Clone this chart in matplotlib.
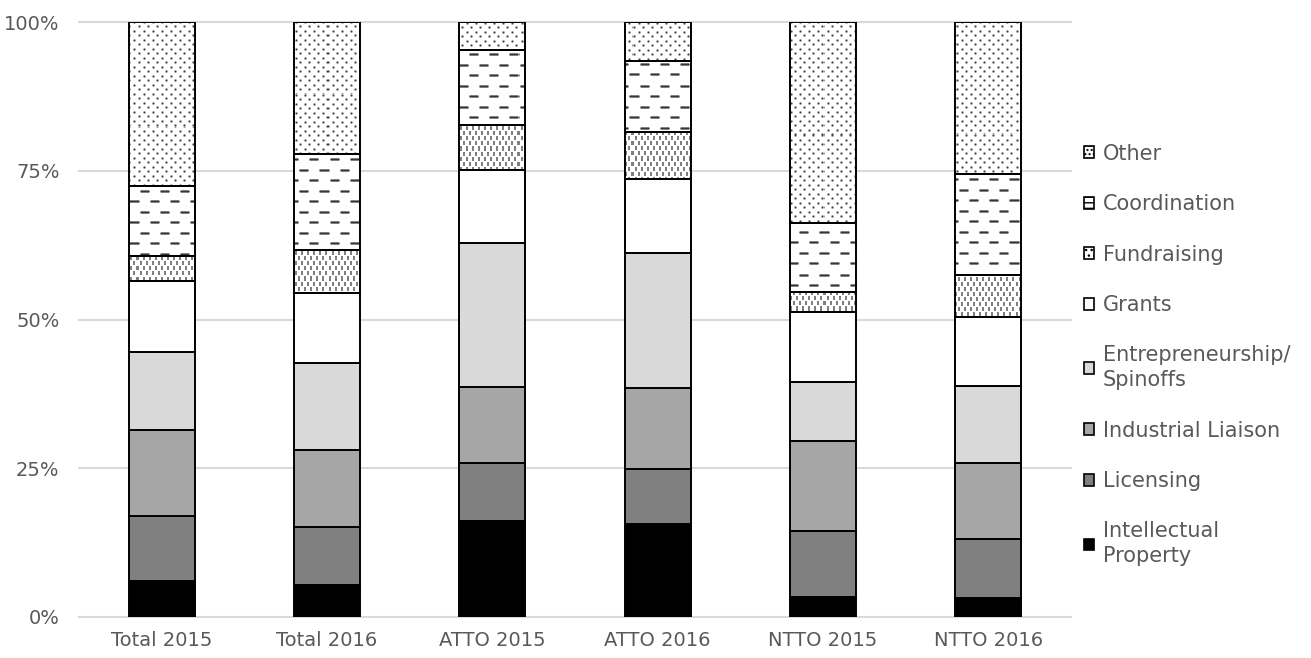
import numpy as np
import matplotlib
matplotlib.use("Agg")
import matplotlib.pyplot as plt
from matplotlib.patches import Patch
from matplotlib.ticker import PercentFormatter

# ------------------ Datos ------------------
groups = ["Total 2015", "Total 2016", "ATTO 2015", "ATTO 2016", "NTTO 2015", "NTTO 2016"]
categories = ["Intellectual\nProperty", "Licensing", "Industrial Liaison",
              "Entrepreneurship/\nSpinoffs", "Grants", "Fundraising",
              "Coordination", "Other"]

intellectual_property = [6.1, 5.4, 16.1, 15.7, 3.4, 3.2]
licensing = [10.8, 9.8, 9.7, 9.1, 11.0, 9.9]
industrial_liaison = [14.6, 12.9, 12.9, 13.7, 15.2, 12.7]
entrepreneurship = [13.0, 14.6, 24.1, 22.7, 9.9, 13.1]
grants = [11.9, 11.7, 12.3, 12.4, 11.7, 11.6]
fundraising = [4.3, 7.3, 7.6, 7.9, 3.4, 6.9]
coordination = [11.7, 16.1, 12.6, 12.0, 11.6, 17.0]
other = [27.6, 22.2, 4.7, 6.5, 33.8, 25.6]

series = [intellectual_property, licensing, industrial_liaison, entrepreneurship,
          grants, fundraising, coordination, other]

# ------------------ Estilo ------------------
solid_colors = ["#000000", "#808080", "#a6a6a6", "#d9d9d9", "#ffffff", None, None, None]
patterns = [None, None, None, None, None, "fund", "coord", "other"]
legend_hatch = {"fund": "...", "coord": "---", "other": "...."}
text_color = "#595959"
grid_color = "#d9d9d9"

W, H, DPI = 1311, 658, 100
ax_rect = [79 / W, 1 - 617 / H, (1071 - 79) / W, (617 - 22) / H]


def make_tile(kind):
    # pequeño mosaico en escala de grises (1 = blanco)
    if kind == "other":
        t = np.ones((9, 9))
        for r, c in [(0, 0), (4, 4)]:
            t[r:r + 3, c:c + 3] = 0.6
            t[r + 1, c + 1] = 0.25
            t[r, c] = t[r + 2, c] = t[r, c + 2] = t[r + 2, c + 2] = 0.85
    elif kind == "coord":
        t = np.ones((21, 20))
        for r, c in [(0, 0), (10, 10)]:
            t[r:r + 3, c:c + 10] = 0.5
            t[r + 1, c + 1:c + 9] = 0.22
            t[r, c] = t[r + 2, c] = t[r, c + 9] = t[r + 2, c + 9] = 0.8
    else:
        t = np.ones((10, 6))
        t[0:4, 0:2] = 0.5
        t[5:9, 3:5] = 0.5
    return t


def pattern_image(kind, w, h):
    tile = make_tile(kind)
    ny = h // tile.shape[0] + 1
    nx = w // tile.shape[1] + 1
    return np.tile(tile, (ny, nx))[:h, :w]


def main():
    plt.rcParams["font.family"] = ["DejaVu Sans"]
    fig = plt.figure(figsize=(W / DPI, H / DPI), dpi=DPI)
    ax = fig.add_axes(ax_rect)

    x = np.arange(len(groups))
    bottom = np.zeros(len(groups))
    pw, ph = int(round(ax_rect[2] * W)), int(round(ax_rect[3] * H))
    xlim = (-0.5, len(groups) - 0.5)

    handles = []
    for vals, col, pat, name in zip(series, solid_colors, patterns, categories):
        vals = np.array(vals)
        if pat is None:
            ax.bar(x, vals, 0.4, bottom=bottom, color=col, edgecolor="black",
                   linewidth=1.4, zorder=3)
            handles.append(Patch(facecolor=col, edgecolor="black", linewidth=1.2))
        else:
            bars = ax.bar(x, vals, 0.4, bottom=bottom, facecolor="none",
                          edgecolor="black", linewidth=1.4, zorder=3)
            img = pattern_image(pat, pw, ph)
            for rect in bars:
                im = ax.imshow(img, cmap="gray", vmin=0, vmax=1, aspect="auto",
                               interpolation="nearest",
                               extent=(xlim[0], xlim[1], 0, 100), zorder=2)
                im.set_clip_path(rect)
            handles.append(Patch(facecolor="white", edgecolor="black",
                                 linewidth=1.2, hatch=legend_hatch[pat]))
        bottom += vals

    ax.set_xlim(*xlim)
    ax.set_ylim(0, 100)
    ax.set_yticks([0, 25, 50, 75, 100])
    ax.yaxis.set_major_formatter(PercentFormatter(decimals=0))
    for yv in [0, 25, 50, 75, 100]:
        ax.axhline(yv, color=grid_color, linewidth=1.5, zorder=0, clip_on=False)
    ax.set_xticks(x)
    ax.set_xticklabels(groups)
    ax.tick_params(axis="both", length=0, labelsize=14, colors=text_color)
    ax.tick_params(axis="y", pad=14)
    ax.tick_params(axis="x", pad=10)
    for sp in ax.spines.values():
        sp.set_visible(False)

    leg = fig.legend(handles[::-1], categories[::-1], loc="center left",
                     bbox_to_anchor=(1084 / W, 1 - 355 / H), frameon=False,
                     fontsize=15, handlelength=0.5, handleheight=0.5,
                     handletextpad=0.4, labelspacing=1.46, borderpad=0.0,
                     borderaxespad=0.0)
    for t in leg.get_texts():
        t.set_color(text_color)
        t.set_linespacing(1.3)

    fig.savefig("out.png", dpi=DPI)


if __name__ == "__main__":
    main()
